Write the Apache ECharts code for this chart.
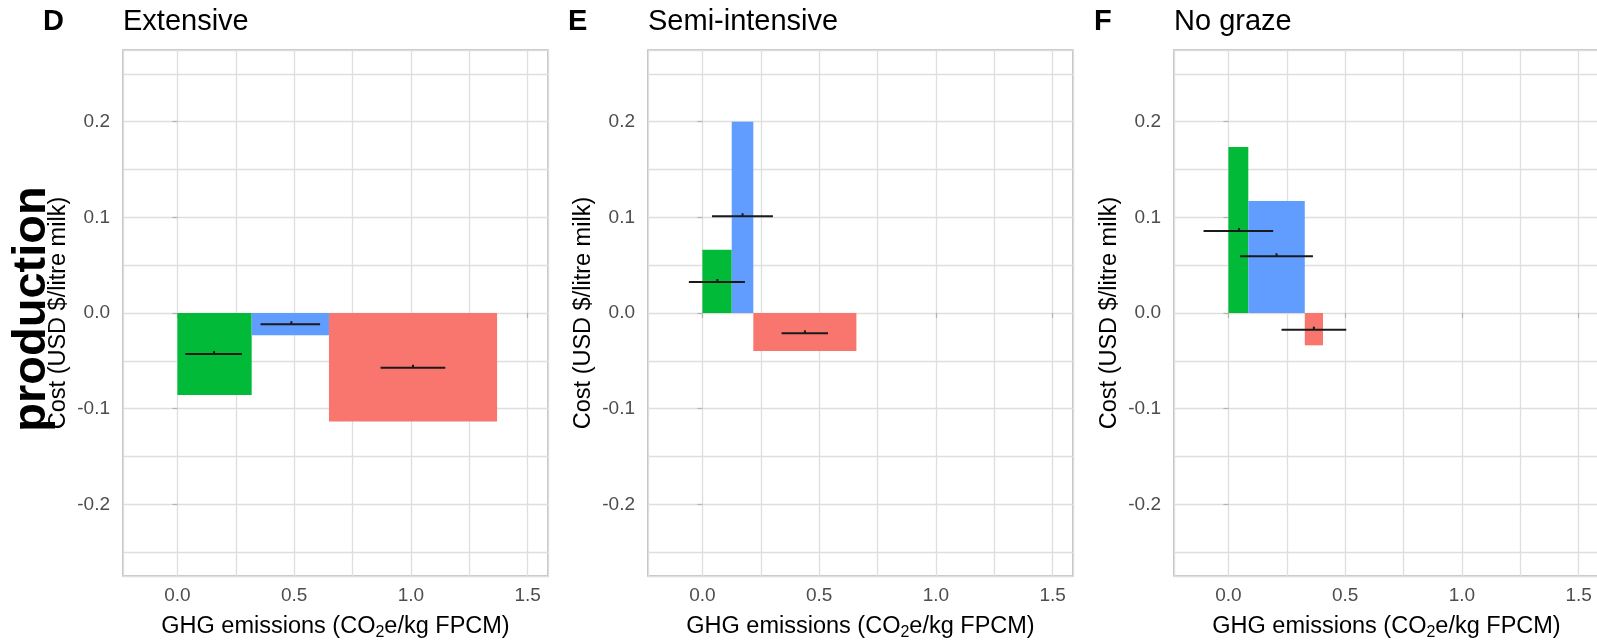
<!DOCTYPE html>
<html>
<head>
<meta charset="utf-8">
<script src="https://cdn.jsdelivr.net/npm/echarts@6/dist/echarts.min.js"></script>
<style>
	html, body { margin: 0; padding: 0; background: #ffffff; }
	#chart { width: 1597px; height: 641px; }
</style>
</head>
<body>
<div id="chart"></div>
<script>
var panel_tags = ['D', 'E', 'F'];
var panel_titles = ['Extensive', 'Semi-intensive', 'No graze'];
var bar_colors = ['#00BA38', '#619CFF', '#F8766D'];

// bar widths = emission reduction, bar heights = cost
var ext_width = [0.318, 0.331, 0.720];
var ext_cost = [-0.0857, -0.0232, -0.1135];
var ext_point_x = [0.157, 0.488, 1.009];
var ext_point_y = [-0.043, -0.0117, -0.0572];
var ext_err_lo = [0.034, 0.356, 0.870];
var ext_err_hi = [0.276, 0.611, 1.147];

var semi_width = [0.1256, 0.0924, 0.4414];
var semi_cost = [0.0662, 0.200, -0.0397];
var semi_point_x = [0.064, 0.172, 0.439];
var semi_point_y = [0.0324, 0.1012, -0.0213];
var semi_err_lo = [-0.058, 0.041, 0.339];
var semi_err_hi = [0.182, 0.302, 0.538];

var nog_width = [0.0852, 0.2418, 0.078];
var nog_cost = [0.1736, 0.117, -0.0338];
var nog_point_x = [0.0456, 0.206, 0.366];
var nog_point_y = [0.0858, 0.0593, -0.0174];
var nog_err_lo = [-0.1065, 0.050, 0.2275];
var nog_err_hi = [0.1917, 0.362, 0.5045];

var x_range = [-0.233, 1.587];
var y_range = [-0.275, 0.275];

var x_title = '{n|GHG emissions (CO}{s|2}{n|e/kg FPCM)}';
var y_title = 'Cost (USD $/litre milk)';
var row_label = 'production';

var panels = [
	{ width: ext_width, cost: ext_cost, px: ext_point_x, py: ext_point_y, lo: ext_err_lo, hi: ext_err_hi },
	{ width: semi_width, cost: semi_cost, px: semi_point_x, py: semi_point_y, lo: semi_err_lo, hi: semi_err_hi },
	{ width: nog_width, cost: nog_cost, px: nog_point_x, py: nog_point_y, lo: nog_err_lo, hi: nog_err_hi },
];

var grid_left = [123, 648, 1174];
var font = 'Liberation Sans';

function render_bar(params, api) {
	var p0 = api.coord([api.value(0), 0]);
	var p1 = api.coord([api.value(1), api.value(2)]);
	return {
		type: 'rect',
		shape: {
			x: Math.min(p0[0], p1[0]),
			y: Math.min(p0[1], p1[1]),
			width: Math.abs(p1[0] - p0[0]),
			height: Math.abs(p1[1] - p0[1]),
		},
		style: { fill: bar_colors[params.dataIndex] },
	};
}

function render_err(params, api) {
	var y = api.value(1);
	var a = api.coord([api.value(2), y]);
	var b = api.coord([api.value(3), y]);
	var c = api.coord([api.value(0), y]);
	return {
		type: 'group',
		children: [
			{
				type: 'line',
				shape: { x1: a[0], y1: a[1], x2: b[0], y2: b[1] },
				style: { stroke: '#1a1a1a', lineWidth: 2 },
			},
			{
				type: 'rect',
				shape: { x: c[0] - 1, y: c[1] - 3, width: 2, height: 3 },
				style: { fill: '#1a1a1a' },
			},
		],
	};
}

function one_decimal(v) {
	var r = Math.round(v * 10) / 10;
	if (Math.abs(v - r) > 1e-6) return '';
	return r.toFixed(1);
}

function half_step(v) {
	var r = Math.round(v * 2) / 2;
	if (Math.abs(v - r) > 1e-6) return '';
	return r.toFixed(1);
}

var grids = [], x_axes = [], y_axes = [], series = [], titles = [];

panels.forEach(function(p, i) {
	grids.push({
		left: grid_left[i],
		top: 50,
		width: 425,
		height: 526,
		outerBoundsMode: 'none',
		containLabel: false,
		show: true,
		borderColor: '#B3B3B3',
		borderWidth: 1.5,
		backgroundColor: '#ffffff',
	});

	x_axes.push({
		type: 'value',
		gridIndex: i,
		min: x_range[0],
		max: x_range[1],
		splitNumber: 4,
		name: x_title,
		nameLocation: 'middle',
		nameGap: 37,
		nameTextStyle: {
			rich: {
				n: { color: '#000000', fontSize: 23.5, fontFamily: font, lineHeight: 28 },
				s: { color: '#000000', fontSize: 16, fontFamily: font, lineHeight: 16, verticalAlign: 'bottom' },
			},
		},
		axisLine: { show: false },
		axisTick: { show: true, length: 5, lineStyle: { color: '#B3B3B3', width: 1.2 } },
		axisLabel: {
			color: '#4D4D4D',
			fontSize: 19,
			fontFamily: font,
			margin: 10,
			showMinLabel: false,
			showMaxLabel: false,
			formatter: half_step,
		},
		splitLine: { show: true, lineStyle: { color: '#DEDEDE', width: 1.3 } },
		minorTick: { show: false, splitNumber: 2 },
		minorSplitLine: { show: true, lineStyle: { color: '#DEDEDE', width: 1.3 } },
	});

	y_axes.push({
		type: 'value',
		gridIndex: i,
		min: y_range[0],
		max: y_range[1],
		splitNumber: 5,
		name: y_title,
		nameLocation: 'middle',
		nameGap: 52,
		nameTextStyle: { color: '#000000', fontSize: 23.5, fontFamily: font },
		axisLine: { show: false },
		axisTick: { show: true, length: 5, lineStyle: { color: '#B3B3B3', width: 1.2 } },
		axisLabel: {
			color: '#4D4D4D',
			fontSize: 19,
			fontFamily: font,
			margin: 13,
			showMinLabel: false,
			showMaxLabel: false,
			formatter: one_decimal,
		},
		splitLine: { show: true, lineStyle: { color: '#DEDEDE', width: 1.3 } },
		minorTick: { show: false, splitNumber: 2 },
		minorSplitLine: { show: true, lineStyle: { color: '#DEDEDE', width: 1.3 } },
	});

	// rectangles laid end to end along the emissions axis
	var bars = [];
	var start = 0;
	p.width.forEach(function(w, k) {
		bars.push([start, start + w, p.cost[k]]);
		start += w;
	});

	var errs = p.px.map(function(x, k) {
		return [x, p.py[k], p.lo[k], p.hi[k]];
	});

	series.push({
		type: 'custom',
		xAxisIndex: i,
		yAxisIndex: i,
		renderItem: render_bar,
		encode: { x: [0, 1], y: 2 },
		data: bars,
		clip: true,
		silent: true,
	});
	series.push({
		type: 'custom',
		xAxisIndex: i,
		yAxisIndex: i,
		renderItem: render_err,
		encode: { x: [2, 3], y: 1 },
		data: errs,
		clip: true,
		silent: true,
		z: 3,
	});

	titles.push({
		text: panel_tags[i],
		left: grid_left[i] - 80,
		top: 7,
		padding: 0,
		textStyle: { fontSize: 29, fontWeight: 'bold', color: '#000000', fontFamily: font },
	});
	titles.push({
		text: panel_titles[i],
		left: grid_left[i],
		top: 7,
		padding: 0,
		textStyle: { fontSize: 29, fontWeight: 'normal', color: '#000000', fontFamily: font },
	});
});

var chart = echarts.init(document.getElementById('chart'), null, { renderer: 'canvas' });
chart.setOption({
	animation: false,
	backgroundColor: '#ffffff',
	title: titles,
	grid: grids,
	xAxis: x_axes,
	yAxis: y_axes,
	series: series,
	graphic: [
		{
			type: 'text',
			x: 32,
			y: 309,
			rotation: Math.PI / 2,
			z: 100,
			style: {
				text: row_label,
				font: 'bold 47px "Liberation Sans"',
				fill: '#000000',
				textAlign: 'center',
				textVerticalAlign: 'middle',
			},
		},
	],
});
</script>
</body>
</html>
